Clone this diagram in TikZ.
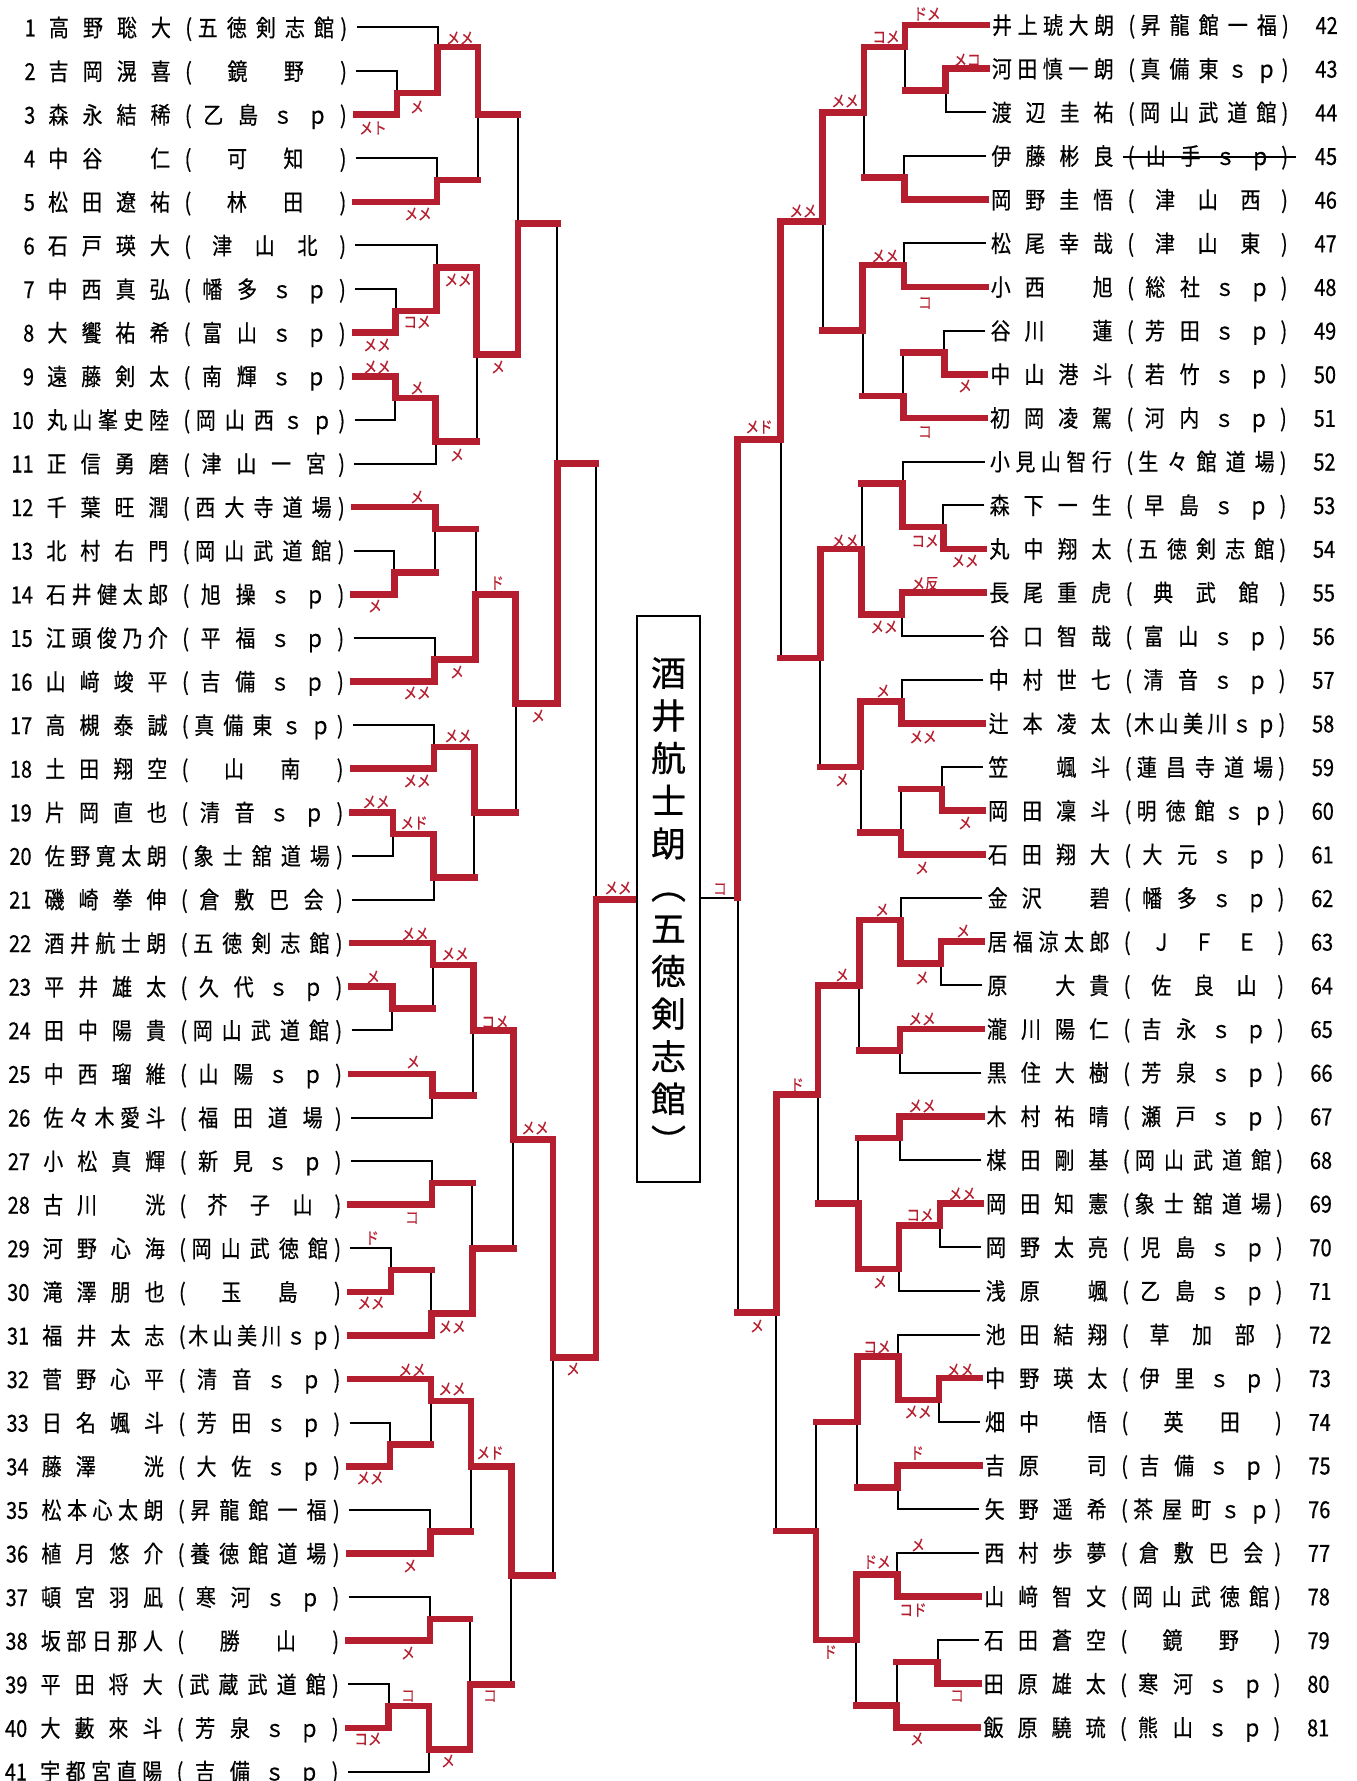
\documentclass[tikz,border=0pt]{standalone}
\usepackage{fontspec}
\usepackage{tikz}
\newfontfamily\jp[FakeStretch=0.85, FakeBold=0.5]{Noto Sans CJK JP}
\newfontfamily\jpbig[FakeBold=0.6]{Noto Sans CJK JP}
\definecolor{winred}{RGB}{181,30,46}
\tikzset{
  bout/.style={line width=1pt, black},
  win/.style={line width=3.3pt, winred, line cap=rect, line join=miter},
  player/.style={font=\jp\fontsize{11.75pt}{14pt}\selectfont, inner sep=0pt, anchor=base west},
  score/.style={font=\jp\fontsize{8pt}{9pt}\selectfont, text=winred, inner sep=0pt},
}
\makeatletter
\newcount\nch
\newdimen\clubinset
\def\cnt@#1{\ifx#1\relax\else\advance\nch\@ne\expandafter\cnt@\fi}
\def\spr@#1{\ifx#1\relax\else\hfill#1\expandafter\spr@\fi}
\def\sprfirst@#1{#1\spr@}
\newcommand\spread[2]{\edef\spr@tmp{#2}\makebox[#1][s]{\expandafter\sprfirst@\spr@tmp\relax}}
\newcommand\clubbox[1]{\edef\cnt@tmp{#1}\nch=0 \expandafter\cnt@\cnt@tmp\relax
  \clubinset=\ifcase\nch 0pt\or 0pt\or 15pt\or 7.75pt\or 3pt\or 0pt\else -1.5pt\fi\relax
  \hspace*{\clubinset}\spread{\dimexpr68.15pt-2\clubinset\relax}{#1}\hspace*{\clubinset}}
\makeatother
% winner/loser/bout/style of loser line
\newcommand\leftbouts{p3/p2/lA/bout, lA/p1/lB/bout, p5/p4/lC/bout, lB/lC/lD/win,
  p8/p7/lE/bout, lE/p6/lF/bout, p9/p10/lG/bout, lG/p11/lH/bout, lF/lH/lI/win, lI/lD/lJ/win,
  p14/p13/lK1/bout, p12/lK1/lL/win, p16/p15/lM/bout, lM/lL/lN/win, p18/p17/lP/bout,
  p19/p20/lQ1/bout, lQ1/p21/lQ2/bout, lP/lQ2/lR/win, lN/lR/lO/win, lO/lJ/lK/win,
  p23/p24/lU1/bout, p22/lU1/lU2/win, p25/p26/lV/bout, lU2/lV/lW/win, p28/p27/lX1/bout,
  p30/p29/lX2/bout, p31/lX2/lX3/win, lX3/lX1/lX4/win, lW/lX4/lY/win,
  p34/p33/lAA1/bout, p32/lAA1/lAA2/win, p36/p35/lAB/bout, lAA2/lAB/lAC/win,
  p38/p37/lAE/bout, p40/p39/lAF/bout, lAF/p41/lAG/bout, lAG/lAE/lAH/win,
  lAC/lAH/lZ/win, lY/lZ/lT/win, lT/lK/lS/win}
\newcommand\rightbouts{p43/p44/rA/bout, p42/rA/rB/win, p46/p45/rC/bout, rB/rC/rD/win,
  p48/p47/rE/bout, p50/p49/rF/bout, p51/rF/rG/win, rE/rG/rH/win, rD/rH/rI/win,
  p54/p53/rN/bout, rN/p52/rO/bout, p55/p56/rP/bout, rP/rO/rL/win, p58/p57/rQ/bout,
  p60/p59/rR/bout, p61/rR/rS/win, rQ/rS/rT/win, rL/rT/rK/win, rI/rK/rJ/win,
  p63/p64/rS1/bout, rS1/p62/rS2/bout, p65/p66/rS3/bout, rS2/rS3/rU/win,
  p67/p68/rS4/bout, p69/p70/rS5/bout, rS5/p71/rS6/bout, rS6/rS4/rS7/win, rU/rS7/rX/win,
  p73/p74/rT3/bout, rT3/p72/rT4/bout, p75/p76/rT5/bout, rT4/rT5/rT1/win,
  p78/p77/rT6/bout, p80/p79/rT7/bout, p81/rT7/rT8/win, rT6/rT8/rT9/win,
  rT9/rT1/rW/win, rX/rW/rY/win, rJ/rY/rZ/win}

\begin{document}
\begin{tikzpicture}[x=0.5pt, y=-0.5pt,
  declare function={ly(\rw)=27.5+43.6*(\rw-1); ry(\kk)=25+43.65*(\kk-42);
    lx(\lv,\rw)=356.7+40.6*\lv-0.005*ly(\rw); rx(\lv,\kk)=986.8-40.8*\lv-0.005*ry(\kk);}]
\useasboundingbox (0,0) rectangle (1356,1781);

% left players
\foreach \i/\nm/\cl in {1/高野聡大/五徳剣志館, 2/吉岡滉喜/鏡野, 3/森永結稀/乙島ｓｐ,
  4/中谷　仁/可知, 5/松田遼祐/林田, 6/石戸瑛大/津山北, 7/中西真弘/幡多ｓｐ,
  8/大饗祐希/富山ｓｐ, 9/遠藤剣太/南輝ｓｐ, 10/丸山峯史陸/岡山西ｓｐ, 11/正信勇磨/津山一宮,
  12/千葉旺潤/西大寺道場, 13/北村右門/岡山武道館, 14/石井健太郎/旭操ｓｐ,
  15/江頭俊乃介/平福ｓｐ, 16/山﨑竣平/吉備ｓｐ, 17/高槻泰誠/真備東ｓｐ, 18/土田翔空/山南,
  19/片岡直也/清音ｓｐ, 20/佐野寛太朗/象士舘道場, 21/磯崎拳伸/倉敷巴会,
  22/酒井航士朗/五徳剣志館, 23/平井雄太/久代ｓｐ, 24/田中陽貴/岡山武道館,
  25/中西瑠維/山陽ｓｐ, 26/佐々木愛斗/福田道場, 27/小松真輝/新見ｓｐ, 28/古川　洸/芥子山,
  29/河野心海/岡山武徳館, 30/滝澤朋也/玉島, 31/福井太志/木山美川ｓｐ, 32/菅野心平/清音ｓｐ,
  33/日名颯斗/芳田ｓｐ, 34/藤澤　洸/大佐ｓｐ, 35/松本心太朗/昇龍館一福,
  36/植月悠介/養徳館道場, 37/頓宮羽凪/寒河ｓｐ, 38/坂部日那人/勝山, 39/平田将大/武蔵武道館,
  40/大藪來斗/芳泉ｓｐ, 41/宇都宮直陽/吉備ｓｐ}{
  \node[player] (n\i) at ({-0.005*ly(\i)}, {ly(\i)+9})
    {\makebox[17.75pt][r]{\i}\hspace{6.6pt}\spread{61pt}{\nm}\hspace{8.9pt}\makebox[0pt]{(}\hspace{4.5pt}\clubbox{\cl}\hspace{4.85pt}\makebox[0pt]{)}};
  \coordinate (p\i) at ({lx(0,\i)}, {ly(\i)});
}

% right players
\foreach \i/\nm/\cl in {42/井上琥大朗/昇龍館一福, 43/河田慎一朗/真備東ｓｐ, 44/渡辺圭祐/岡山武道館,
  45/伊藤彬良/山手ｓｐ, 46/岡野圭悟/津山西, 47/松尾幸哉/津山東, 48/小西　旭/総社ｓｐ,
  49/谷川　蓮/芳田ｓｐ, 50/中山港斗/若竹ｓｐ, 51/初岡凌駕/河内ｓｐ, 52/小見山智行/生々館道場,
  53/森下一生/早島ｓｐ, 54/丸中翔太/五徳剣志館, 55/長尾重虎/典武館, 56/谷口智哉/富山ｓｐ,
  57/中村世七/清音ｓｐ, 58/辻本凌太/木山美川ｓｐ, 59/笠　颯斗/蓮昌寺道場, 60/岡田凜斗/明徳館ｓｐ,
  61/石田翔大/大元ｓｐ, 62/金沢　碧/幡多ｓｐ, 63/居福涼太郎/ＪＦＥ, 64/原　大貴/佐良山,
  65/瀧川陽仁/吉永ｓｐ, 66/黒住大樹/芳泉ｓｐ, 67/木村祐晴/瀬戸ｓｐ, 68/楳田剛基/岡山武道館,
  69/岡田知憲/象士舘道場, 70/岡野太亮/児島ｓｐ, 71/浅原　颯/乙島ｓｐ, 72/池田結翔/草加部,
  73/中野瑛太/伊里ｓｐ, 74/畑中　悟/英田, 75/吉原　司/吉備ｓｐ, 76/矢野遥希/茶屋町ｓｐ,
  77/西村歩夢/倉敷巴会, 78/山﨑智文/岡山武徳館, 79/石田蒼空/鏡野, 80/田原雄太/寒河ｓｐ,
  81/飯原驍琉/熊山ｓｐ}{
  \node[player] (n\i) at ({991.8-0.005*ry(\i)}, {ry(\i)+9})
    {\spread{61pt}{\nm}\hspace{8.9pt}\makebox[0pt]{(}\hspace{4.35pt}\clubbox{\cl}\hspace{4.25pt}\makebox[0pt]{)}\hspace{26.2pt}\llap{\i}};
  \coordinate (p\i) at ({rx(0,\i)}, {ry(\i)});
}
\draw[line width=0.8pt] (1123, {ry(45)+1}) -- (1296, {ry(45)+1});

% bouts: name/level/row
\foreach \m/\lv/\rw in {lA/1/2.5, lB/2/1.45, lC/2/4.5, lD/3/3, lE/1/7.5, lF/2/6.5, lG/1/9.5,
  lH/2/10.5, lI/3/8.5, lJ/4/5.5, lK1/1/13.5, lL/2/12.5, lM/2/15.5, lN/3/14, lP/2/17.5,
  lQ1/1/19.5, lQ2/2/20.5, lR/3/19, lO/4/16.5, lK/5/11, lU1/1/23.5, lU2/2/22.5, lV/2/25.5,
  lW/3/24, lX1/2/27.5, lX2/1/29.5, lX3/2/30.5, lX4/3/29, lY/4/26.5, lAA1/1/33.5,
  lAA2/2/32.5, lAB/2/35.5, lAC/3/34, lAE/2/37.5, lAF/1/39.5, lAG/2/40.5, lAH/3/39,
  lZ/4/36.5, lT/5/31.5, lS/6/21}
  \coordinate (\m) at ({lx(\lv,\rw)}, {ly(\rw)});
\foreach \m/\lv/\kk in {rA/1/43.5, rB/2/42.5, rC/2/45.5, rD/3/44, rE/2/47.5, rF/1/49.5,
  rG/2/50.5, rH/3/49, rI/4/46.5, rN/1/53.5, rO/2/52.5, rP/2/55.5, rL/3/54, rQ/2/57.5,
  rR/1/59.5, rS/2/60.5, rT/3/59, rK/4/56.5, rJ/5/51.5, rS1/1/63.5, rS2/2/62.5, rS3/2/65.5,
  rU/3/64, rS4/2/67.5, rS5/1/69.5, rS6/2/70.5, rS7/3/69, rX/4/66.5, rT3/1/73.5,
  rT4/2/72.5, rT5/2/75.5, rT1/3/74, rT6/2/77.5, rT7/1/79.5, rT8/2/80.5, rT9/3/79,
  rW/4/76.5, rY/5/71.5, rZ/6/62}
  \coordinate (\m) at ({rx(\lv,\kk)}, {ry(\kk)});

% champion
\node[draw, line width=1pt, minimum width=31.5pt, minimum height=283pt, inner sep=0pt] (champ) at (668.5, 899) {};
\node[font=\jpbig\fontsize{17.5pt}{21.3pt}\selectfont, align=center, inner sep=0pt] (champname)
  at (668.5, 906) {酒\\井\\航\\士\\朗\\︵\\五\\徳\\剣\\志\\館\\︶};
\draw[bout] (rZ) -- (rZ -| champ.east);

\foreach \wn/\ls/\m/\st in \leftbouts \draw[bout] (\ls) -| (\m) (\wn) -| (\m);
\foreach \wn/\ls/\m/\st in \rightbouts \draw[bout] (\ls) -| (\m) (\wn) -| (\m);
\foreach \wn/\ls/\m/\st in \leftbouts {\draw[\st] (\ls) -- (\ls -| \m); \draw[win] (\wn) -| (\m);}
\foreach \wn/\ls/\m/\st in \rightbouts {\draw[\st] (\ls) -- (\ls -| \m); \draw[win] (\wn) -| (\m);}
\draw[win, shorten >=1.65pt] (lS) -- (lS -| champ.west);

% scores
\foreach \x/\y/\txt [count=\c] in {373/128/メト, 417/107/メ, 460/38/メメ, 418/214/メメ,
  458/280/メメ, 417/322/コメ, 377/345/メメ, 377/367/メメ, 417/388/メ, 457/455/メ, 498/367/メ,
  417/497/メ, 375/606/メ, 497/583/ド, 457/672/メ, 417/693/メメ, 538/716/メ, 458/736/メメ,
  417/781/メメ, 376/802/メメ, 414/823/メド, 618/888/メメ, 415/934/メメ, 455/954/メメ,
  373/977/メ, 495/1022/コメ, 413/1062/メ, 535/1128/メメ, 412/1218/コ, 372/1238/ド,
  371/1303/メメ, 452/1327/メメ, 573/1369/メ, 412/1370/メメ, 452/1389/メメ, 370/1478/メメ,
  490/1453/メド, 410/1566/メ, 408/1653/メ, 408/1696/コ, 368/1739/コメ, 448/1761/メ,
  490/1696/コ, 927/14/ドメ, 886/37/コメ, 967/60/メコ, 845/101/メメ, 803/211/メメ,
  885/256/メメ, 925/303/コ, 965/386/メ, 925/432/コ, 759/427/メド, 845/541/メメ,
  925/541/コメ, 965/561/メメ, 925/584/メ反, 884/627/メメ, 883/691/メ, 923/737/メメ,
  842/780/メ, 965/823/メ, 922/868/メ, 720/889/コ, 757/1326/メ, 797/1085/ド, 842/975/メ,
  882/910/メ, 963/931/メ, 922/978/メ, 922/1019/メメ, 922/1106/メメ, 962/1194/メメ,
  920/1215/コメ, 880/1282/メ, 960/1370/メメ, 918/1412/メメ, 877/1347/コメ, 917/1453/ド,
  830/1652/ド, 918/1545/メ, 877/1562/ドメ, 913/1610/コド, 957/1696/コ, 917/1739/メ}
  \node[score] (s\c) at (\x,\y) {\txt};
\end{tikzpicture}
\end{document}
